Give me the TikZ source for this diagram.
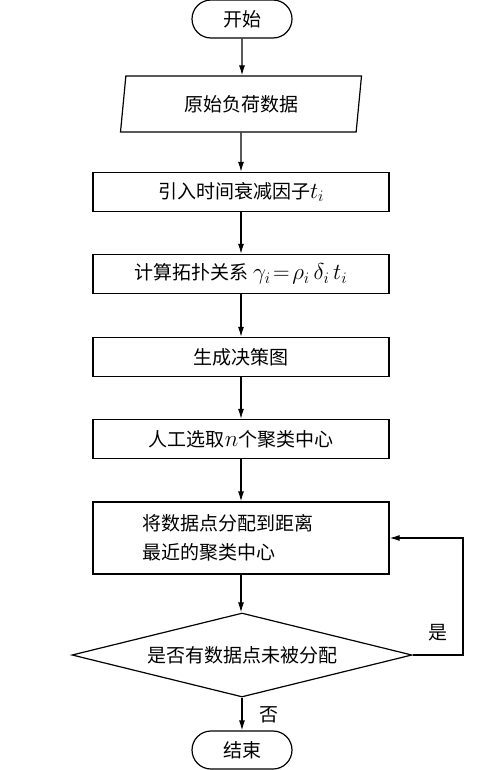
\documentclass[tikz,border=0pt]{standalone}
\usepackage{fix-cm}
\usepackage{fontspec}
\newfontfamily\cjk{Noto Sans CJK SC}
\DeclareMathSizes{19}{23}{16}{12}
\usetikzlibrary{shapes.geometric,shapes.misc,arrows.meta}

\tikzset{
  base/.style={draw, line width=1.2pt, font=\cjk\fontsize{19}{29}\selectfont, inner sep=0pt},
  terminal/.style={base, rounded rectangle, minimum width=100pt, minimum height=38pt},
  iobox/.style={base, trapezium, trapezium left angle=73, trapezium right angle=107,
    trapezium stretches body, minimum width=241pt, minimum height=56pt},
  procbox/.style={base, rectangle, minimum width=296pt, minimum height=39pt},
  decision/.style={base, diamond, aspect=4, minimum width=340pt, minimum height=84pt},
  flow/.style={line width=1.2pt, -{Latex[length=10pt,width=6pt]}},
  lbl/.style={font=\cjk\fontsize{19}{22}\selectfont, inner sep=0pt}
}

\begin{document}
\begin{tikzpicture}[x=1pt, y=-1pt]
  \useasboundingbox (0,0) rectangle (500,770);
  % nodes
  \node[terminal] (start) at (242,19) {开始};
  \node[iobox] (data) at (241,104) {原始负荷数据};
  \node[procbox] (decay) at (241,192) {引入时间衰减因子$t_i$};
  \node[procbox] (topo) at (241,274) {计算拓扑关系 $\gamma_i\!=\!\rho_i\,\delta_i\,t_i$};
  \node[procbox] (graph) at (241,357) {生成决策图};
  \node[procbox] (centre) at (241,439) {人工选取$n$个聚类中心};
  \node[procbox, minimum height=72pt, align=left, text width=198pt] (assign) at (241,538)
    {将数据点分配到距离\\最近的聚类中心};
  \node[decision] (check) at (242,655) {是否有数据点未被分配};
  \node[terminal] (stop) at (242,750) {结束};
  \coordinate (loop) at (463,538);
  % connectors
  \draw[flow] (start) -- (start |- data.north);
  \draw[flow] (data) -- (decay);
  \draw[flow] (decay) -- (topo);
  \draw[flow] (topo) -- (graph);
  \draw[flow] (graph) -- (centre);
  \draw[flow] (centre) -- (assign);
  \draw[flow] (assign) -- (assign |- check.north);
  \draw[flow] (check) -- (stop);
  \draw[flow] (check.east) -| (loop) -- (assign.east);
  % labels
  \node[lbl] (yes) at (438,633) {是};
  \node[lbl] (no) at (269,715) {否};
\end{tikzpicture}
\end{document}
